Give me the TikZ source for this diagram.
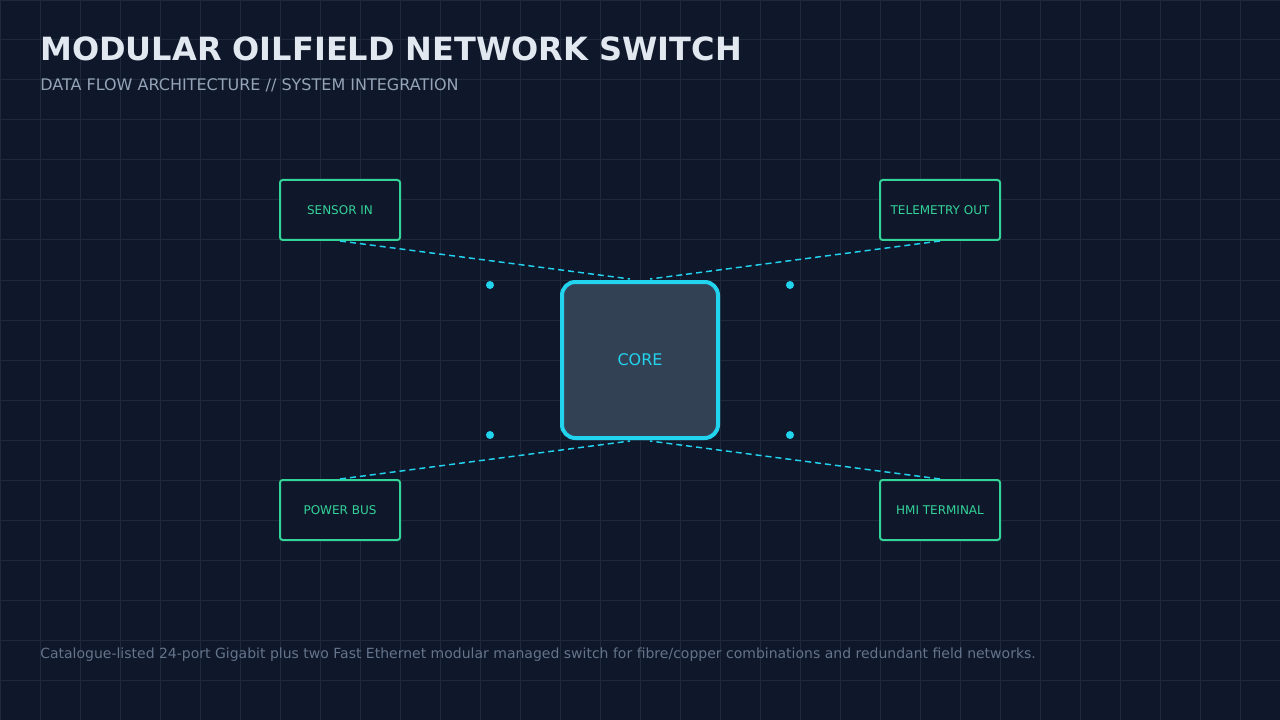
\documentclass[tikz,border=0pt]{standalone}
\usepackage{fontspec}
\setmainfont{DejaVu Sans}
\usetikzlibrary{positioning}
\definecolor{bgcol}{HTML}{0F172A}
\definecolor{gridcol}{HTML}{1E293B}
\definecolor{titlecol}{HTML}{E2E8F0}
\definecolor{subcol}{HTML}{94A3B8}
\definecolor{footcol}{HTML}{64748B}
\definecolor{portcol}{HTML}{34D399}
\definecolor{linkcol}{HTML}{22D3EE}
\definecolor{corefill}{HTML}{334155}
\tikzstyle{port} = [rectangle, draw=portcol, line width=1.5pt, rounded corners=2pt, text=portcol, font=\fontsize{9}{11}\selectfont, minimum width=90pt, minimum height=45pt, fill=bgcol]
\tikzstyle{core} = [rectangle, draw=linkcol, line width=3pt, rounded corners=10pt, fill=corefill, text=linkcol, font=\fontsize{12}{14}\selectfont, minimum width=117pt, minimum height=117pt]
\tikzstyle{link} = [linkcol, line width=1.1pt, dash pattern=on 4.5pt off 3pt]
\tikzstyle{led}  = [circle, fill=linkcol, inner sep=0pt, minimum size=6pt]

\begin{document}
\begin{tikzpicture}[x=0.75pt, y=-0.75pt]

	% Background and grid
	\fill[bgcol] (0,0) rectangle (1280,720);
	\useasboundingbox (0,0) rectangle (1280,720);
	\draw[gridcol, line width=0.75pt] (0,0) grid[step=30pt] (1280,720);

	% Heading
	\node (title) [anchor=west, text=titlecol, font=\fontsize{24}{28}\selectfont\bfseries, inner sep=0pt] at (40,49) {MODULAR OILFIELD NETWORK SWITCH};
	\node (subtitle) [anchor=west, text=subcol, font=\fontsize{12}{14}\selectfont, inner sep=0pt] at (40,85) {DATA FLOW ARCHITECTURE // SYSTEM INTEGRATION};

	% Core and ports
	\node (core) [core] at (640,360) {CORE};
	\node (sensor) [port] at (340,210) {SENSOR IN};
	\node (telemetry) [port] at (940,210) {TELEMETRY OUT};
	\node (power) [port] at (340,510) {POWER BUS};
	\node (hmi) [port] at (940,510) {HMI TERMINAL};

	% Link ends on the core
	\coordinate (coreNW) at (630,279);
	\coordinate (coreNE) at (650,279);
	\coordinate (coreSW) at (630,441);
	\coordinate (coreSE) at (650,441);

	% Links
	\draw[link] (sensor.south) -- (coreNW);
	\draw[link] (telemetry.south) -- (coreNE);
	\draw[link] (power.north) -- (coreSW);
	\draw[link] (hmi.north) -- (coreSE);

	% Status dots
	\node (led1) [led] at (490,285) {};
	\node (led2) [led] at (790,285) {};
	\node (led3) [led] at (490,435) {};
	\node (led4) [led] at (790,435) {};

	% Footer
	\node (footer) [anchor=west, text=footcol, font=\fontsize{10.5}{12}\selectfont, inner sep=0pt] at (40,655) {Catalogue-listed 24-port Gigabit plus two Fast Ethernet modular managed switch for fibre/copper combinations and redundant field networks.};

\end{tikzpicture}
\end{document}
